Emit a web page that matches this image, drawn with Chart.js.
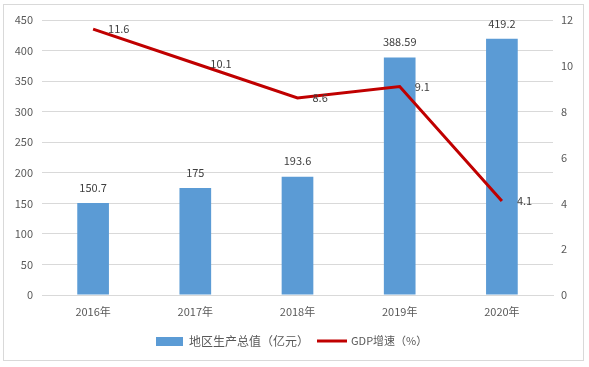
<!DOCTYPE html>
<html>
<head>
<meta charset="utf-8">
<script src="https://cdn.jsdelivr.net/npm/chart.js@4/dist/chart.umd.min.js"></script>
<style>
  html, body { margin: 0; padding: 0; background: #fff; }
  canvas { display: block; }
</style>
</head>
<body>
<canvas id="chart" width="589" height="367"></canvas>
<script>
/* ===== DATA ===== */
const years = ["2016年", "2017年", "2018年", "2019年", "2020年"];
const gdpTotal = [150.7, 175, 193.6, 388.59, 419.2];
const gdpGrowth = [11.6, 10.1, 8.6, 9.1, 4.1];
const barLabel = "地区生产总值（亿元）";
const lineLabel = "GDP增速（%）";

/* ===== STYLE ===== */
const FONT = "'Noto Sans CJK SC', 'DejaVu Sans', sans-serif";
const TEXT = "#595959";
const GRID = "#D9D9D9";
const BLUE = "#5B9BD5";
const RED = "#C00000";

// border, data labels and legend drawn by hand
const extras = {
  id: "extras",
  afterDatasetsDraw(chart) {
    const ctx = chart.ctx;
    ctx.save();
    ctx.font = "11px " + FONT;
    ctx.fillStyle = "#404040";

    // bar labels (dataset 1)
    chart.getDatasetMeta(1).data.forEach((bar, i) => {
      ctx.textAlign = "center";
      ctx.textBaseline = "bottom";
      ctx.fillText(String(gdpTotal[i]), bar.x, bar.y - 10);
    });

    // line labels (dataset 0)
    chart.getDatasetMeta(0).data.forEach((pt, i) => {
      ctx.textAlign = "left";
      ctx.textBaseline = "middle";
      ctx.fillText(String(gdpGrowth[i]), pt.x + 15, pt.y);
    });

    // outer border
    ctx.strokeStyle = GRID;
    ctx.lineWidth = 1;
    ctx.strokeRect(3.5, 4.5, 580, 356);

    // legend
    const ly = 341;
    ctx.fillStyle = BLUE;
    ctx.fillRect(156, ly - 4, 27, 9);
    ctx.fillStyle = TEXT;
    ctx.font = "12px " + FONT;
    ctx.textAlign = "left";
    ctx.textBaseline = "middle";
    ctx.fillText(barLabel, 189, ly);
    ctx.strokeStyle = RED;
    ctx.lineWidth = 3;
    ctx.beginPath();
    ctx.moveTo(317, ly);
    ctx.lineTo(347, ly);
    ctx.stroke();
    ctx.font = "11px " + FONT;
    ctx.fillText(lineLabel, 351, ly);
    ctx.restore();
  }
};

new Chart(document.getElementById("chart"), {
  data: {
    labels: years,
    datasets: [
      {
        type: "line",
        label: lineLabel,
        data: gdpGrowth,
        yAxisID: "y1",
        borderColor: RED,
        borderWidth: 3,
        pointRadius: 0,
        tension: 0,
        order: 0
      },
      {
        type: "bar",
        label: barLabel,
        data: gdpTotal,
        yAxisID: "y",
        backgroundColor: BLUE,
        categoryPercentage: 1,
        barPercentage: 0.31,
        order: 1
      }
    ]
  },
  options: {
    responsive: false,
    animation: false,
    layout: { padding: { top: 20, left: 0, right: 0, bottom: 0 } },
    plugins: {
      legend: { display: false },
      tooltip: { enabled: false }
    },
    scales: {
      x: {
        offset: true,
        grid: { display: false, drawTicks: false },
        border: { color: GRID },
        ticks: { color: TEXT, font: { family: FONT, size: 11 }, padding: 10 },
        afterFit(s) { s.height = 72; }
      },
      y: {
        position: "left",
        min: 0,
        max: 450,
        ticks: { stepSize: 50, color: TEXT, font: { family: FONT, size: 11 }, padding: 9 },
        grid: { color: GRID, drawTicks: false },
        border: { display: false },
        afterFit(s) { s.width = 42; }
      },
      y1: {
        position: "right",
        min: 0,
        max: 12,
        ticks: { stepSize: 2, color: TEXT, font: { family: FONT, size: 11 }, padding: 8 },
        grid: { display: false, drawTicks: false },
        border: { display: false },
        afterFit(s) { s.width = 36; }
      }
    }
  },
  plugins: [extras]
});
</script>
</body>
</html>
